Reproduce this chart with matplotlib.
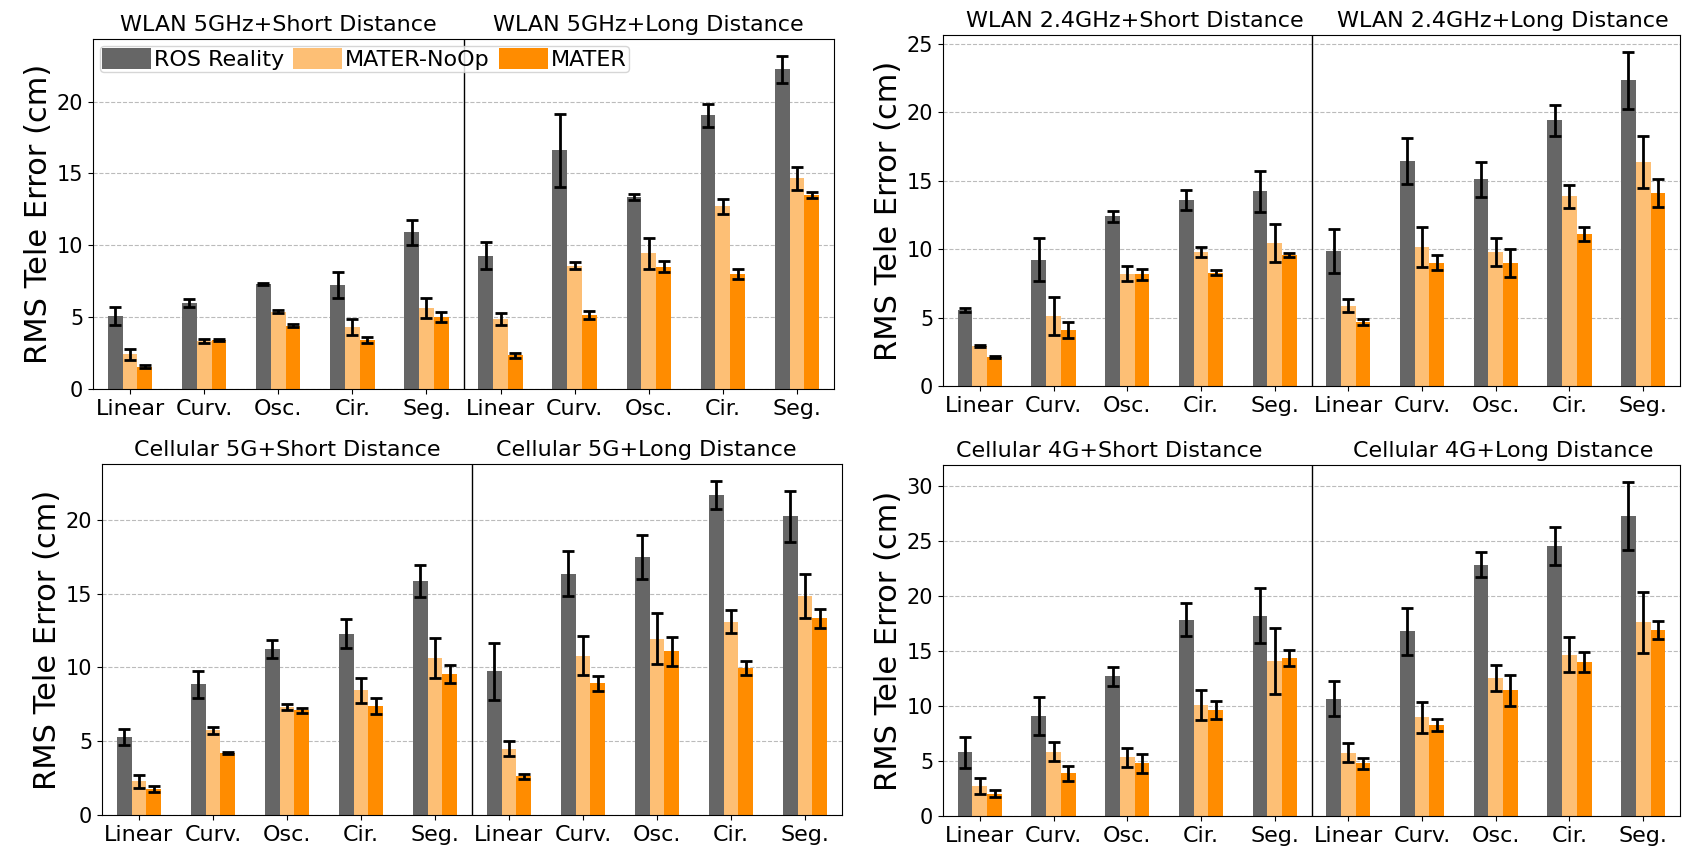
import matplotlib
matplotlib.use("Agg")
import matplotlib.pyplot as plt
import numpy as np

# x tick labels (5 trajectories, short distance then long distance)
trajectories = ["Linear", "Curv.", "Osc.", "Cir.", "Seg."]
tick_labels = trajectories + trajectories
methods = ["ROS Reality", "MATER-NoOp", "MATER"]
colors = ["#666666", "#FDBF75", "#FF8C00"]

# panel titles (short, long)
titles_wlan5 = ["WLAN 5GHz+Short Distance", "WLAN 5GHz+Long Distance"]
titles_wlan24 = ["WLAN 2.4GHz+Short Distance", "WLAN 2.4GHz+Long Distance"]
titles_cell5 = ["Cellular 5G+Short Distance", "Cellular 5G+Long Distance"]
titles_cell4 = ["Cellular 4G+Short Distance", "Cellular 4G+Long Distance"]

# WLAN 5GHz
wlan5_ros = [5.08, 5.96, 7.31, 7.24, 10.9, 9.28, 16.6, 13.34, 19.07, 22.25]
wlan5_ros_err = [0.65, 0.28, 0.1, 0.9, 0.87, 0.95, 2.55, 0.2, 0.8, 0.95]
wlan5_noop = [2.41, 3.34, 5.38, 4.34, 5.61, 4.87, 8.58, 9.44, 12.71, 14.66]
wlan5_noop_err = [0.4, 0.15, 0.1, 0.55, 0.7, 0.4, 0.25, 1.1, 0.5, 0.8]
wlan5_mater = [1.55, 3.41, 4.41, 3.41, 5.03, 2.34, 5.15, 8.51, 8.0, 13.5]
wlan5_mater_err = [0.1, 0.1, 0.1, 0.2, 0.35, 0.2, 0.25, 0.4, 0.35, 0.2]

# WLAN 2.4GHz
wlan24_ros = [5.57, 9.23, 12.39, 13.56, 14.24, 9.86, 16.43, 15.09, 19.4, 22.32]
wlan24_ros_err = [0.15, 1.55, 0.4, 0.73, 1.5, 1.6, 1.67, 1.25, 1.15, 2.1]
wlan24_noop = [2.92, 5.09, 8.2, 9.79, 10.44, 5.87, 10.15, 9.79, 13.85, 16.36]
wlan24_noop_err = [0.1, 1.4, 0.55, 0.35, 1.37, 0.5, 1.47, 1.03, 0.85, 1.92]
wlan24_mater = [2.12, 4.11, 8.15, 8.28, 9.54, 4.67, 9.0, 9.0, 11.12, 14.1]
wlan24_mater_err = [0.05, 0.57, 0.4, 0.2, 0.15, 0.2, 0.55, 1.03, 0.5, 1.0]

# Cellular 5G
cell5_ros = [5.27, 8.86, 11.25, 12.27, 15.86, 9.73, 16.36, 17.5, 21.7, 20.23]
cell5_ros_err = [0.55, 0.93, 0.6, 0.98, 1.1, 1.92, 1.53, 1.5, 0.95, 1.73]
cell5_noop = [2.27, 5.73, 7.32, 8.45, 10.64, 4.5, 10.8, 11.93, 13.09, 14.82]
cell5_noop_err = [0.45, 0.23, 0.23, 0.85, 1.35, 0.5, 1.34, 1.73, 0.77, 1.48]
cell5_mater = [1.75, 4.2, 7.09, 7.39, 9.55, 2.61, 8.91, 11.09, 9.95, 13.32]
cell5_mater_err = [0.2, 0.05, 0.15, 0.57, 0.63, 0.2, 0.5, 1.0, 0.47, 0.65]

# Cellular 4G
cell4_ros = [5.78, 9.09, 12.67, 17.84, 18.2, 10.67, 16.78, 22.83, 24.53, 27.26]
cell4_ros_err = [1.42, 1.72, 0.9, 1.5, 2.5, 1.6, 2.13, 1.15, 1.73, 3.1]
cell4_noop = [2.74, 5.84, 5.32, 10.09, 14.04, 5.74, 8.97, 12.52, 14.65, 17.6]
cell4_noop_err = [0.75, 0.87, 0.87, 1.35, 3.0, 0.87, 1.4, 1.2, 1.58, 2.77]
cell4_mater = [2.04, 3.86, 4.77, 9.64, 14.35, 4.77, 8.27, 11.4, 13.98, 16.93]
cell4_mater_err = [0.3, 0.65, 0.88, 0.8, 0.76, 0.5, 0.53, 1.4, 0.87, 0.82]

plt.rcParams['font.family'] = ['DejaVu Sans']

W, H = 1696, 852
fig = plt.figure(figsize=(W / 100, H / 100), dpi=100)


def add_axes(left, top, right, bottom):
    return fig.add_axes([left / W, 1 - bottom / H, (right - left) / W, (bottom - top) / H])


panels = [
    (add_axes(93, 39, 834, 389), titles_wlan5, (2.0, 7.0),
     [(wlan5_ros, wlan5_ros_err), (wlan5_noop, wlan5_noop_err), (wlan5_mater, wlan5_mater_err)]),
    (add_axes(943, 35, 1680, 386), titles_wlan24, (2.1, 7.1),
     [(wlan24_ros, wlan24_ros_err), (wlan24_noop, wlan24_noop_err), (wlan24_mater, wlan24_mater_err)]),
    (add_axes(102, 464, 842, 815), titles_cell5, (2.0, 6.85),
     [(cell5_ros, cell5_ros_err), (cell5_noop, cell5_noop_err), (cell5_mater, cell5_mater_err)]),
    (add_axes(943, 465, 1680, 816), titles_cell4, (1.75, 7.1),
     [(cell4_ros, cell4_ros_err), (cell4_noop, cell4_noop_err), (cell4_mater, cell4_mater_err)]),
]

x = np.arange(len(tick_labels))
width = 0.2

for i, (ax, titles, title_x, series) in enumerate(panels):
    for j, (vals, errs) in enumerate(series):
        ax.bar(x + (j - 1) * width, vals, width, yerr=errs, color=colors[j],
               label=methods[j], zorder=2,
               error_kw=dict(ecolor='black', elinewidth=2, capsize=4, capthick=2))
    ax.axvline(4.5, color='black', linewidth=1.0, zorder=3)
    ax.set_xlim(-0.5, 9.5)
    ax.set_xticks(x)
    ax.set_xticklabels(tick_labels, fontsize=16)
    ax.tick_params(axis='y', labelsize=15)
    ax.yaxis.grid(True, linestyle='--', color='#bbbbbb', linewidth=0.8)
    ax.set_axisbelow(True)
    ax.set_ylabel("RMS Tele Error (cm)", fontsize=22, labelpad=3)
    for t, tx in zip(titles, title_x):
        ax.annotate(t, xy=(tx, 1.0), xycoords=('data', 'axes fraction'),
                    xytext=(0, 3), textcoords='offset points',
                    ha='center', va='bottom', fontsize=16)
    if i == 0:
        ax.legend(loc='upper left', ncol=3, fontsize=16, handlelength=2.2,
                  handleheight=1.1, handletextpad=0.15, columnspacing=0.4,
                  borderpad=0.1, borderaxespad=0.3, framealpha=0.8)

fig.savefig("out.png", dpi=100)
